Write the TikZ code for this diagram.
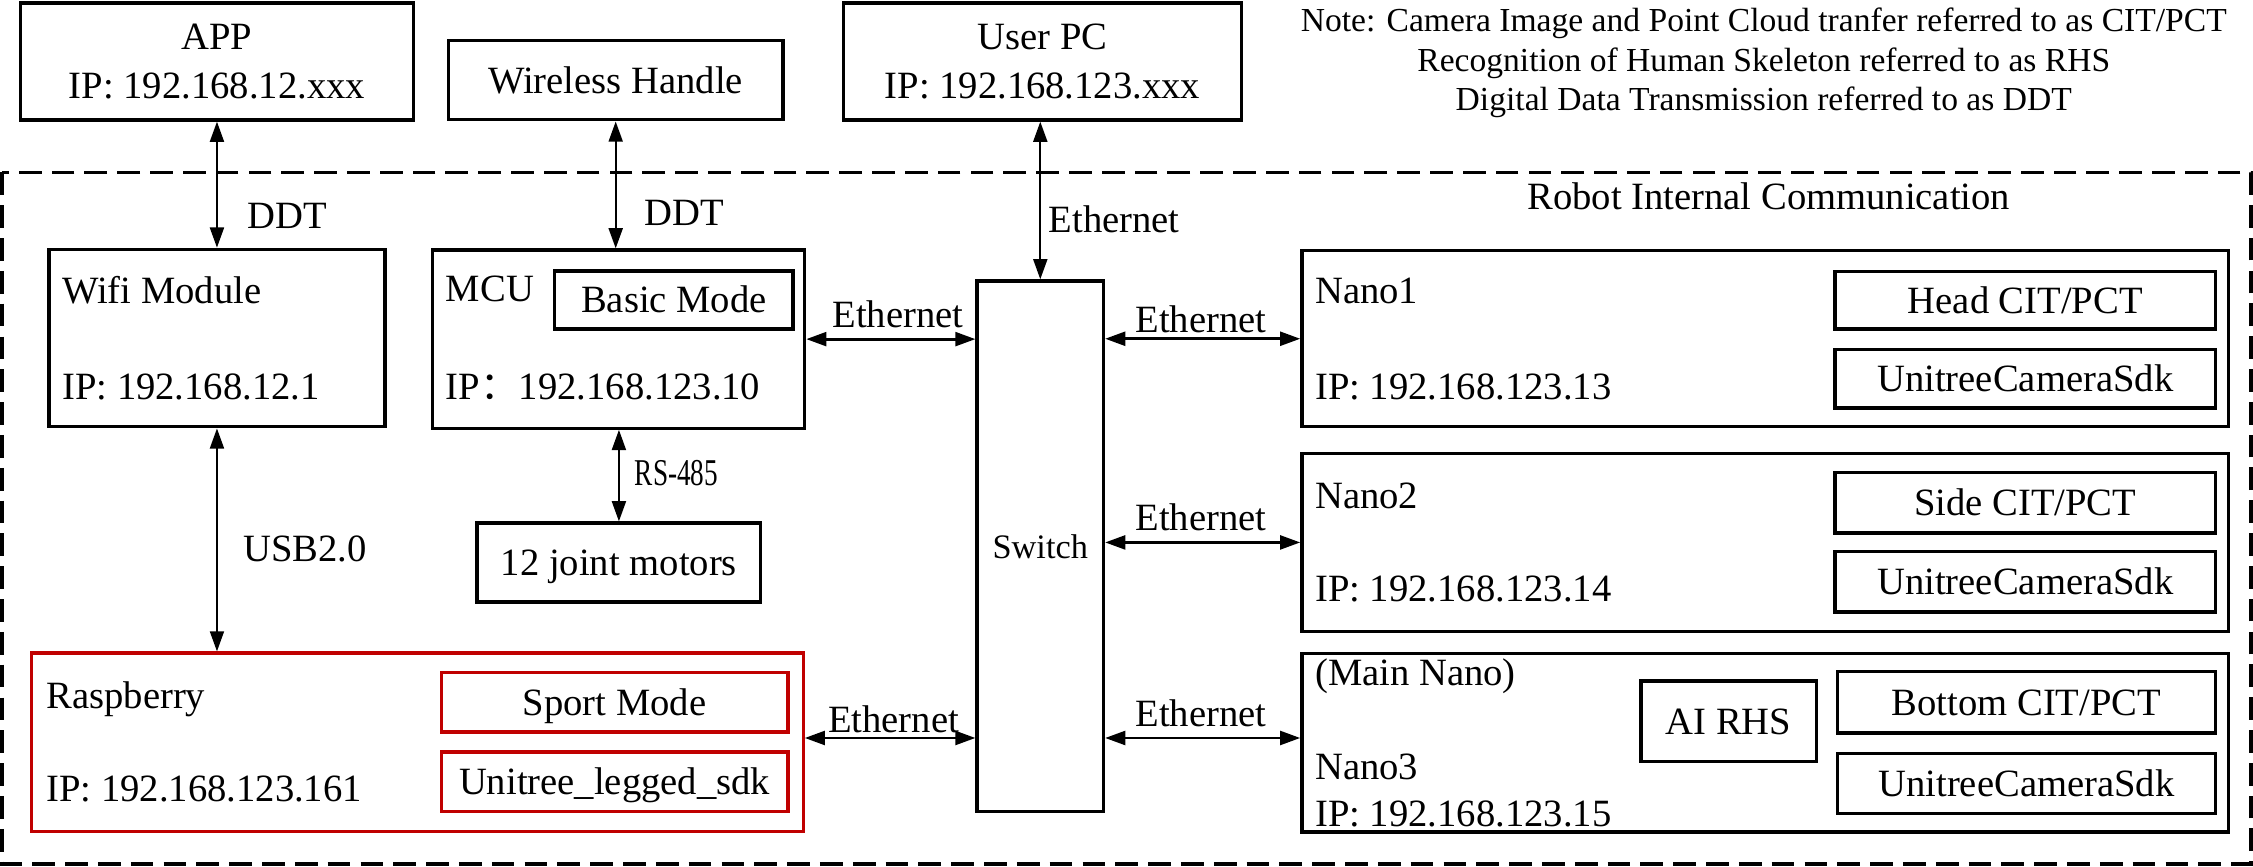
\documentclass[tikz,border=0pt]{standalone}
\usepackage{fontspec}
\setmainfont{Liberation Serif}
\newfontfamily\cjkfont{Noto Sans CJK SC}
\usetikzlibrary{arrows.meta}
\definecolor{rpired}{RGB}{192,0,0}

\begin{document}
\begin{tikzpicture}[x=0.02cm, y=-0.02cm,
    >={Triangle[length=8pt,width=5.5pt]},
    every node/.append style={font=\fontsize{15.3}{19.7}\selectfont},
    box/.style={rectangle, draw, line width=1.3pt, inner sep=0pt, align=center},
    cbox/.style={box, text height=13.5pt, text depth=3.4pt},
    redbox/.style={cbox, draw=rpired},
    txt/.style={inner sep=0pt, anchor=base west},
    link/.style={<->, line width=0.9pt},
    bus/.style={<->, line width=1.1pt},
    dashframe/.style={line width=1.5pt, dash pattern=on 9pt off 4pt}]
    \useasboundingbox (0,0) rectangle (1568,603);

    % Frame and note
    \draw[dashframe] (1.5,120) rectangle (1566.5,601.5);
    \node (robot) [inner sep=0pt, anchor=base] at (1231,146) {Robot Internal Communication};
    \node (note) [inner sep=0pt, anchor=north, align=center, font=\fontsize{13.3}{15.66}\selectfont] at (1227.5,5.2)
        {Note: Camera Image and Point Cloud tranfer referred to as CIT/PCT\\Recognition of Human Skeleton referred to as RHS\\Digital Data Transmission referred to as DDT};

    % Nodes
    \node (app) [box, minimum width=5.48cm, minimum height=1.63cm] at (151,42.75) {APP\\IP: 192.168.12.xxx};
    \node (handle) [cbox, minimum width=4.66cm, minimum height=1.1cm] at (428.5,55.9) {Wireless Handle};
    \node (userpc) [box, minimum width=5.54cm, minimum height=1.63cm] at (725.5,42.75) {User PC\\IP: 192.168.123.xxx};

    \node (wifi) [box, minimum width=4.68cm, minimum height=2.47cm] at (151,235.25) {};
    \node (wifiname) [txt] at (43,211) {Wifi Module};
    \node (wifiip) [txt] at (43,278) {IP: 192.168.12.1};

    \node (mcu) [box, minimum width=5.18cm, minimum height=2.48cm] at (430.5,236) {};
    \node (mcuname) [txt] at (310,210) {MCU};
    \node (mcuip) [txt] at (310,278) {IP{\cjkfont ：}192.168.123.10};
    \node (basic) [cbox, minimum width=3.32cm, minimum height=0.81cm] at (469,208.75) {Basic Mode};
    \node (motors) [cbox, minimum width=3.95cm, minimum height=1.1cm] at (430.75,391.5) {12 joint motors};

    \node (rpi) [redbox, minimum width=10.74cm, minimum height=2.48cm] at (290.5,516.5) {};
    \node (rpiname) [txt] at (32,493) {Raspberry};
    \node (rpiip) [txt] at (32,558) {IP: 192.168.123.161};
    \node (sport) [redbox, minimum width=4.83cm, minimum height=0.83cm] at (427.75,488.75) {Sport Mode};
    \node (legged) [redbox, minimum width=4.83cm, minimum height=0.83cm] at (427.75,544.15) {Unitree\_legged\_sdk};

    \node (switch) [box, minimum width=1.76cm, minimum height=7.39cm, font=\fontsize{13.6}{16}\selectfont] at (724,380.25) {Switch};

    \node (nano1) [box, minimum width=12.9cm, minimum height=2.45cm] at (1228.5,235.75) {};
    \node (nano1name) [txt] at (915,211) {Nano1};
    \node (nano1ip) [txt] at (915,278) {IP: 192.168.123.13};
    \node (head) [cbox, minimum width=5.3cm, minimum height=0.8cm] at (1409.5,209) {Head CIT/PCT};
    \node (cam1) [cbox, minimum width=5.3cm, minimum height=0.82cm] at (1409.5,263.5) {UnitreeCameraSdk};

    \node (nano2) [box, minimum width=12.9cm, minimum height=2.48cm] at (1228.5,377.5) {};
    \node (nano2name) [txt] at (915,353.8) {Nano2};
    \node (nano2ip) [txt] at (915,418.8) {IP: 192.168.123.14};
    \node (side) [cbox, minimum width=5.3cm, minimum height=0.84cm] at (1409.5,350) {Side CIT/PCT};
    \node (cam2) [cbox, minimum width=5.3cm, minimum height=0.84cm] at (1409.5,405) {UnitreeCameraSdk};

    \node (nano3) [box, minimum width=12.9cm, minimum height=2.48cm] at (1228.5,517) {};
    \node (mainnano) [txt] at (915,477.2) {(Main Nano)};
    \node (nano3name) [txt] at (915,542.4) {Nano3};
    \node (nano3ip) [txt] at (915,575) {IP: 192.168.123.15};
    \node (airhs) [cbox, minimum width=2.44cm, minimum height=1.12cm] at (1203,502) {AI RHS};
    \node (bottom) [cbox, minimum width=5.27cm, minimum height=0.85cm] at (1410.3,488.8) {Bottom CIT/PCT};
    \node (cam3) [cbox, minimum width=5.27cm, minimum height=0.83cm] at (1410.3,545.35) {UnitreeCameraSdk};

    % Arrows
    \coordinate (ylow) at (0,513.6);
    \draw[link] (app) -- (wifi);
    \draw[link] (handle.south) -- (handle.south |- mcu.north);
    \draw[link] (switch.north) -- (switch.north |- userpc.south);
    \draw[link] (wifi.south) -- (wifi.south |- rpi.north);
    \draw[link] (motors.north) -- (motors.north |- mcu.south);
    \draw[bus] (mcu.east) -- (mcu.east -| switch.west);
    \draw[bus] (switch.east |- nano1.west) -- (nano1.west);
    \draw[bus] (switch.east |- nano2.west) -- (nano2.west);
    \draw[bus] (rpi.east |- ylow) -- (switch.west |- ylow);
    \draw[bus] (switch.east |- ylow) -- (nano3.west |- ylow);

    % Labels
    \node (ddt1) [txt] at (172,159) {DDT};
    \node (ddt2) [txt] at (448,156.6) {DDT};
    \node (eth0) [txt] at (729.5,162) {Ethernet};
    \node (eth1) [txt] at (579,227.7) {Ethernet};
    \node (eth2) [txt] at (790,231.6) {Ethernet};
    \node (eth3) [txt] at (790,368.9) {Ethernet};
    \node (eth4) [txt] at (576,509.6) {Ethernet};
    \node (eth5) [txt] at (790,505.7) {Ethernet};
    \node (usb) [txt] at (169,391) {USB2.0};
    \node (rs485) [txt, font=\fontsize{15}{18}\selectfont] at (441.5,337.6) {\scalebox{0.72}[1]{RS-485}};
\end{tikzpicture}
\end{document}
